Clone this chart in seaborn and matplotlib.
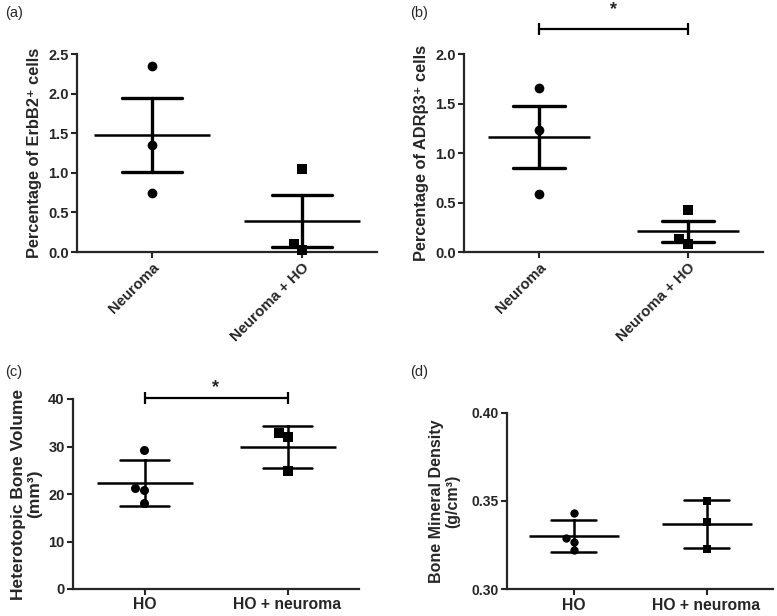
import matplotlib.pyplot as plt
import numpy as np
import pandas as pd
import seaborn as sns
from matplotlib.ticker import FormatStrFormatter

sns.set_theme(style="ticks")
plt.rcParams['font.family'] = ['Liberation Sans', 'DejaVu Sans']
plt.rcParams['axes.linewidth'] = 1.6

# Data
groups_ab = ['Neuroma', 'Neuroma + HO']
erbb2_neuroma = [2.35, 1.35, 0.74]
erbb2_neuroma_ho = [1.05, 0.10, 0.02]
adrb3_neuroma = [1.66, 1.23, 0.59]
adrb3_neuroma_ho = [0.42, 0.13, 0.08]

groups_cd = ['HO', 'HO + neuroma']
volume_ho = [29.3, 21.2, 20.8, 18.2]
volume_ho_neuroma = [32.9, 32.1, 24.9]
bmd_ho = [0.343, 0.329, 0.327, 0.322]
bmd_ho_neuroma = [0.350, 0.338, 0.323]


def draw_panel(ax, groups, vals0, vals1, errorbar, capsize, mean_w, err_lw, ms):
    df = pd.DataFrame({'group': [groups[0]] * len(vals0) + [groups[1]] * len(vals1),
                       'value': vals0 + vals1})
    # mean line + error bars
    sns.pointplot(data=df, x='group', y='value', order=groups, errorbar=errorbar,
                  capsize=capsize, color='black', linestyle='none', marker='_',
                  markersize=mean_w, markeredgewidth=1.8,
                  err_kws={'linewidth': err_lw}, ax=ax)
    # individual points
    for g, m in zip(groups, ['o', 's']):
        sns.swarmplot(data=df[df['group'] == g], x='group', y='value', order=groups,
                      marker=m, size=ms, color='black', linewidth=0, ax=ax, zorder=4,
                      clip_on=False)
    sns.despine(ax=ax)
    ax.set_xlim(-0.5, 1.5)
    ax.set_xlabel('')
    ax.tick_params(axis='both', direction='out', length=4, width=1.5, pad=2)
    for lab in ax.get_yticklabels():
        lab.set_fontweight('bold')


def sig_bar(ax, y, y_star):
    ax.plot([0, 1], [y, y], color='black', lw=1.6, marker='|', markersize=9,
            markeredgewidth=1.6, clip_on=False)
    ax.text(0.5, y_star, '*', ha='center', va='center', fontsize=13, fontweight='bold')


fig = plt.figure(figsize=(7.77, 6.16), dpi=100)
W, H = 777, 616
ax_a = fig.add_axes([77 / W, 1 - 252 / H, 300 / W, 198 / H])
ax_b = fig.add_axes([464 / W, 1 - 252 / H, 299 / W, 198 / H])
ax_c = fig.add_axes([73 / W, 1 - 589 / H, 286 / W, 190 / H])
ax_d = fig.add_axes([507 / W, 1 - 589.3 / H, 266 / W, 176.6 / H])

# (a)
draw_panel(ax_a, groups_ab, erbb2_neuroma, erbb2_neuroma_ho, 'se', 0.4, 83, 2.4, 7)
ax_a.set_ylim(0, 2.5)
ax_a.set_yticks(np.arange(0, 2.51, 0.5))
ax_a.yaxis.set_major_formatter(FormatStrFormatter('%.1f'))
ax_a.set_ylabel('Percentage of ErbB2\u207a cells', fontsize=11.8, fontweight='bold')

# (b)
draw_panel(ax_b, groups_ab, adrb3_neuroma, adrb3_neuroma_ho, 'se', 0.35, 73, 2.4, 7)
ax_b.set_ylim(0, 2.0)
ax_b.set_yticks(np.arange(0, 2.01, 0.5))
ax_b.yaxis.set_major_formatter(FormatStrFormatter('%.1f'))
ax_b.set_ylabel('Percentage of ADR\u03b23\u207a cells', fontsize=11.8, fontweight='bold')
sig_bar(ax_b, 2.25, 2.45)

for ax in (ax_a, ax_b):
    ax.set_xticks([0, 1])
    ax.set_xticklabels(groups_ab, rotation=45, ha='right', rotation_mode='anchor',
                       fontsize=10.8, fontweight='bold')
    ax.tick_params(axis='y', labelsize=10.5)

# (c)
draw_panel(ax_c, groups_cd, volume_ho, volume_ho_neuroma, 'sd', 0.34, 69, 1.8, 6.5)
ax_c.set_ylim(0, 40)
ax_c.set_yticks([0, 10, 20, 30, 40])
ax_c.yaxis.set_major_formatter(FormatStrFormatter('%d'))
ax_c.set_ylabel('Heterotopic Bone Volume\n(mm\u00b3)', fontsize=12.5, fontweight='bold',
                linespacing=1.1)
sig_bar(ax_c, 40.3, 42.3)

# (d)
draw_panel(ax_d, groups_cd, bmd_ho, bmd_ho_neuroma, 'sd', 0.34, 65, 1.8, 6)
ax_d.set_ylim(0.30, 0.40)
ax_d.set_yticks([0.30, 0.35, 0.40])
ax_d.yaxis.set_major_formatter(FormatStrFormatter('%.2f'))
ax_d.set_ylabel('Bone Mineral Density\n(g/cm\u00b3)', fontsize=11.5, fontweight='bold',
                linespacing=1.1, labelpad=8)

ax_c.tick_params(axis='y', labelsize=10.5)
ax_d.tick_params(axis='y', labelsize=10)
for ax in (ax_c, ax_d):
    ax.set_xticks([0, 1])
    ax.set_xticklabels(groups_cd, fontsize=11.3, fontweight='bold')

# panel letters
fig.text(5 / W, 1 - 13 / H, '(a)', fontsize=10.5, va='center')
fig.text(410 / W, 1 - 13 / H, '(b)', fontsize=10.5, va='center')
fig.text(5 / W, 1 - 372 / H, '(c)', fontsize=10.5, va='center')
fig.text(410 / W, 1 - 372 / H, '(d)', fontsize=10.5, va='center')

fig.savefig('out.png', dpi=100)
